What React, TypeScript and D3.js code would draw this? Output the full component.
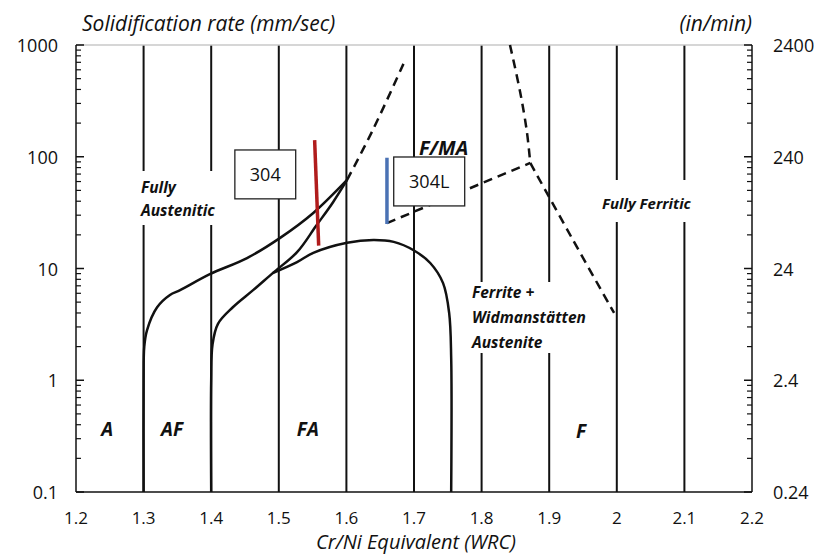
import React from "react";
import * as d3 from "d3";

// axis values
const xTicks = [1.2, 1.3, 1.4, 1.5, 1.6, 1.7, 1.8, 1.9, 2, 2.1, 2.2];
const gridX = [1.3, 1.4, 1.5, 1.6, 1.7, 1.8, 1.9, 2, 2.1];
const yMajor = [1000, 100, 10, 1, 0.1];
const leftLabels = ["1000", "100", "10", "1", "0.1"];
const rightLabels = ["2400", "240", "24", "2.4", "0.24"];

// boundary curves, [WRC, mm/sec]
const curveAF: [number, number][] = [
  [1.3, 0.1], [1.3, 1], [1.301, 2], [1.305, 2.8], [1.32, 4.5], [1.339, 5.8],
  [1.354, 6.4], [1.398, 8.9], [1.453, 12.4], [1.502, 18.8], [1.551, 31.4], [1.601, 62],
];
const curveFAupper: [number, number][] = [
  [1.4, 0.1], [1.4, 1], [1.402, 2.1], [1.41, 3.2], [1.432, 4.5], [1.462, 6.4],
  [1.491, 9.1], [1.527, 14], [1.555, 24], [1.58, 39], [1.601, 62],
];
const curveFAlower: [number, number][] = [
  [1.491, 9.1], [1.527, 11.4], [1.551, 13.8], [1.601, 17], [1.64, 18], [1.67, 17.3],
  [1.7, 14.5], [1.724, 11.2], [1.743, 7.4], [1.752, 4], [1.755, 1.6], [1.755, 0.1],
];
const dashAFext: [number, number][] = [[1.601, 62], [1.639, 173], [1.687, 734]];
const dashFMA: [number, number][] = [[1.66, 25.5], [1.872, 88]];
const dashFerriteTop: [number, number][] = [[1.842, 1000], [1.857, 380], [1.867, 167], [1.872, 88]];
const dashFerriteLow: [number, number][] = [[1.872, 88], [1.933, 19], [1.996, 4]];
const line304: [number, number][] = [[1.553, 141], [1.559, 16]];
const line304L: [number, number][] = [[1.66, 98], [1.66, 25]];

const W = 829, H = 555;
const font = "'Open Sans', Lato, sans-serif";

export default function App() {
  const x = d3.scaleLinear().domain([1.2, 2.2]).range([76, 752]);
  const y = d3.scaleLog().domain([0.1, 1000]).range([492, 45]);

  const smooth = d3.line<[number, number]>()
    .x(d => x(d[0])).y(d => y(d[1]))
    .curve(d3.curveCatmullRom.alpha(0.5));
  const straight = d3.line<[number, number]>().x(d => x(d[0])).y(d => y(d[1]));

  // minor ticks 2..9 in every decade
  const minor: number[] = [];
  [0.1, 1, 10, 100].forEach(d => { for (let k = 2; k <= 9; k++) minor.push(d * k); });

  const boxes = [
    { label: "304", x0: 1.435, x1: 1.525, y0: 115, y1: 42 },
    { label: "304L", x0: 1.67, x1: 1.775, y0: 99.5, y1: 36.3 },
  ];

  return (
    <svg width={W} height={H} style={{ position: "absolute", left: 0, top: 0, background: "#fff" }}
      fontFamily={font}>
      {/* vertical grid lines */}
      {gridX.map(g => (
        <line key={g} x1={x(g)} x2={x(g)} y1={y(0.1)} y2={y(1000)} stroke="#111" strokeWidth={2} />
      ))}

      {/* white label backgrounds hiding the grid */}
      <rect x={118} y={171} width={107} height={54} fill="#fff" />
      <rect x={463} y={282} width={140} height={71} fill="#fff" />
      <rect x={598} y={180} width={110} height={42} fill="#fff" />

      {/* frame */}
      <line x1={76} x2={752} y1={45} y2={45} stroke="#c8c8c8" strokeWidth={1.5} />
      <line x1={76} x2={76} y1={45} y2={492} stroke="#111" strokeWidth={1.5} />
      <line x1={752} x2={752} y1={45} y2={492} stroke="#111" strokeWidth={1.5} />
      <line x1={76} x2={752} y1={492} y2={492} stroke="#111" strokeWidth={1.5} />

      {/* y ticks */}
      {yMajor.map(v => (
        <g key={v}>
          <line x1={76} x2={84} y1={y(v)} y2={y(v)} stroke="#111" strokeWidth={1.5} />
          <line x1={744} x2={752} y1={y(v)} y2={y(v)} stroke="#111" strokeWidth={1.5} />
        </g>
      ))}
      {minor.map(v => (
        <g key={v}>
          <line x1={76} x2={81} y1={y(v)} y2={y(v)} stroke="#111" strokeWidth={1.2} />
          <line x1={747} x2={752} y1={y(v)} y2={y(v)} stroke="#111" strokeWidth={1.2} />
        </g>
      ))}
      {yMajor.map((v, i) => (
        <g key={"l" + v} fontSize={18} fill="#111" dominantBaseline="central">
          <text x={58} y={y(v)} textAnchor="end">{leftLabels[i]}</text>
          <text x={773} y={y(v)} textAnchor="start">{rightLabels[i]}</text>
        </g>
      ))}

      {/* x tick labels */}
      {xTicks.map(v => (
        <text key={v} x={x(v)} y={517} fontSize={17} fill="#111" textAnchor="middle" dominantBaseline="central">
          {String(v)}
        </text>
      ))}

      {/* titles */}
      <text x={82} y={31} fontSize={21} fontStyle="italic" fill="#111">Solidification rate (mm/sec)</text>
      <text x={752} y={31} fontSize={21} fontStyle="italic" fill="#111" textAnchor="end">(in/min)</text>
      <text x={416} y={549} fontSize={20} fontStyle="italic" fill="#111" textAnchor="middle">Cr/Ni Equivalent (WRC)</text>

      {/* boundaries */}
      <path d={smooth(curveAF) ?? ""} fill="none" stroke="#111" strokeWidth={2.5} />
      <path d={smooth(curveFAupper) ?? ""} fill="none" stroke="#111" strokeWidth={2.5} />
      <path d={smooth(curveFAlower) ?? ""} fill="none" stroke="#111" strokeWidth={2.5} />
      <path d={smooth(dashAFext) ?? ""} fill="none" stroke="#111" strokeWidth={2.5} strokeDasharray="9 6" />
      <path d={straight(dashFMA) ?? ""} fill="none" stroke="#111" strokeWidth={2.5} strokeDasharray="9 6" />
      <path d={smooth(dashFerriteTop) ?? ""} fill="none" stroke="#111" strokeWidth={2.5} strokeDasharray="9 6" />
      <path d={smooth(dashFerriteLow) ?? ""} fill="none" stroke="#111" strokeWidth={2.5} strokeDasharray="9 6" />

      {/* alloy boxes and lines */}
      {boxes.map(b => (
        <g key={b.label}>
          <rect x={x(b.x0)} y={y(b.y0)} width={x(b.x1) - x(b.x0)} height={y(b.y1) - y(b.y0)}
            fill="#fff" stroke="#222" strokeWidth={1.3} />
          <text x={(x(b.x0) + x(b.x1)) / 2} y={(y(b.y0) + y(b.y1)) / 2} fontSize={18}
            textAnchor="middle" dominantBaseline="central" fill="#111">{b.label}</text>
        </g>
      ))}
      <path d={straight(line304) ?? ""} stroke="#b01c1c" strokeWidth={3.5} />
      <path d={straight(line304L) ?? ""} stroke="#4a72b4" strokeWidth={3.5} />

      {/* region labels */}
      <g fontWeight="bold" fontStyle="italic" fill="#111">
        <text x={141} y={193} fontSize={15.5}>Fully</text>
        <text x={141} y={216} fontSize={15.5}>Austenitic</text>
        <text x={419} y={155} fontSize={20}>F/MA</text>
        <text x={602} y={209} fontSize={15}>Fully Ferritic</text>
        <text x={472} y={298} fontSize={15.5}>Ferrite +</text>
        <text x={472} y={323} fontSize={15.5}>Widmanstätten</text>
        <text x={472} y={348} fontSize={15.5}>Austenite</text>
        <text x={x(1.246)} y={436} fontSize={19} textAnchor="middle">A</text>
        <text x={x(1.342)} y={436} fontSize={19} textAnchor="middle">AF</text>
        <text x={x(1.543)} y={436} fontSize={19} textAnchor="middle">FA</text>
        <text x={x(1.947)} y={438} fontSize={19} textAnchor="middle">F</text>
      </g>
    </svg>
  );
}
